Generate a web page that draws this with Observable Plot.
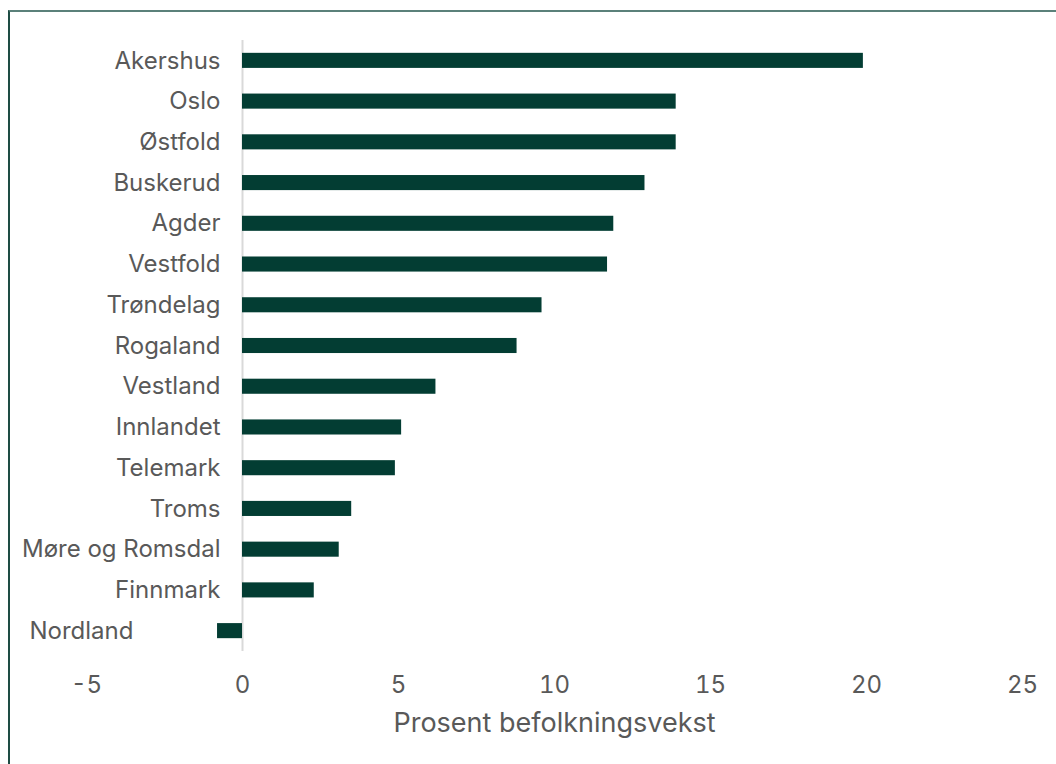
<!DOCTYPE html>
<html>
<head>
<meta charset="utf-8">
<script src="https://cdn.jsdelivr.net/npm/d3@7"></script>
<script src="https://cdn.jsdelivr.net/npm/@observablehq/plot@0.6"></script>
<style>
  html, body { margin: 0; padding: 0; background: #fff; }
  #wrap { position: relative; width: 1056px; height: 764px; overflow: hidden; }
  #frame { position: absolute; left: 8px; top: 10px; width: 1100px; height: 800px;
           border-left: 2px solid #1e4c44; border-top: 2px solid #5b817a; box-sizing: border-box; }
  #chart { position: absolute; left: 0; top: 0; }
</style>
</head>
<body>
<div id="wrap"><div id="frame"></div><div id="chart"></div></div>
<script>
const regions = ["Akershus","Oslo","Østfold","Buskerud","Agder","Vestfold","Trøndelag","Rogaland","Vestland","Innlandet","Telemark","Troms","Møre og Romsdal","Finnmark","Nordland"];
const growth = [19.9, 13.9, 13.9, 12.9, 11.9, 11.7, 9.6, 8.8, 6.2, 5.1, 4.9, 3.5, 3.1, 2.3, -0.8];
const xTicks = [-5, 0, 5, 10, 15, 20, 25];
const xLabel = "Prosent befolkningsvekst";

const data = regions.map((r, i) => ({region: r, value: growth[i]}));
const pos = data.filter(d => d.value >= 0);
const neg = data.filter(d => d.value < 0);

const font = "Inter, 'Noto Sans', sans-serif";
const textColor = "#595959";

const plot = Plot.plot({
  width: 1056,
  height: 764,
  marginLeft: 86,
  marginRight: 34,
  marginTop: 40,
  marginBottom: 113,
  style: {fontFamily: font, background: "transparent"},
  x: {domain: [-5, 25], ticks: xTicks, axis: null},
  y: {domain: regions, paddingInner: 0.63, paddingOuter: 0.315, round: false, axis: null},
  marks: [
    Plot.ruleX([0], {stroke: "#d9d9d9", strokeWidth: 2}),
    Plot.barX(data, {x: "value", y: "region", fill: "#033d33"}),
    Plot.text(pos, {x: 0, y: "region", text: "region", textAnchor: "end", dx: -22, fill: textColor, fontSize: 24}),
    Plot.text(neg, {x: -5, y: "region", text: "region", textAnchor: "start", dx: -57, fill: textColor, fontSize: 24}),
    Plot.axisX({ticks: xTicks, tickFormat: d => String(d), tickSize: 0, tickPadding: 24, fontSize: 24, color: textColor, label: null}),
    Plot.axisX({ticks: [], label: xLabel, labelAnchor: "center", labelArrow: "none", labelOffset: 80, fontSize: 27, color: textColor, tickSize: 0})
  ]
});
document.getElementById("chart").appendChild(plot);
</script>
</body>
</html>
